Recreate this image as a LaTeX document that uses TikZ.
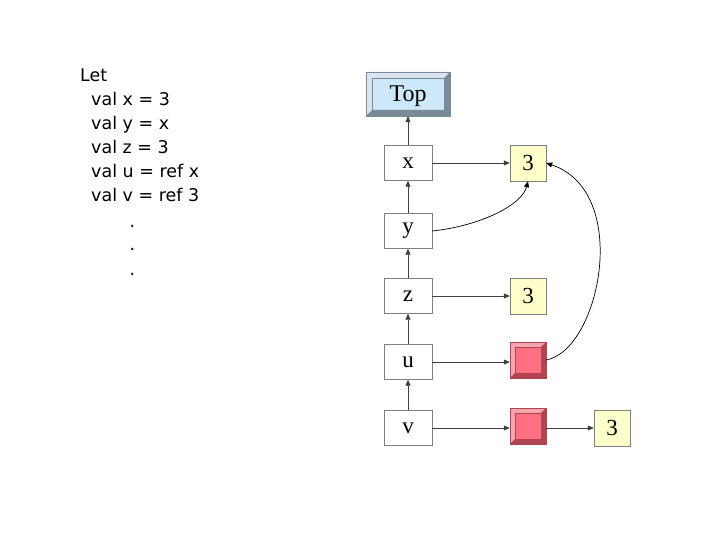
\documentclass[tikz,border=0pt]{standalone}
\usepackage{fontspec}
\setmainfont{Liberation Serif}
\newfontfamily\codefont{DejaVu Sans}
\usetikzlibrary{arrows.meta}
\definecolor{linegrey}{HTML}{404040}
\definecolor{boxedge}{HTML}{808080}
\definecolor{valyellow}{HTML}{FFFFCC}
\definecolor{topface}{HTML}{CCE8FA}
\definecolor{toplight}{HTML}{D8E4EE}
\definecolor{topdark}{HTML}{7A8A98}
\definecolor{redface}{HTML}{FF7080}
\definecolor{redlight}{HTML}{F4A6AE}
\definecolor{reddark}{HTML}{B04452}
\tikzset{
  varbox/.style={draw=boxedge, fill=white, minimum width=48pt, minimum height=35pt, inner sep=0pt, font=\fontsize{23}{25}\selectfont},
  valbox/.style={draw=boxedge, fill=valyellow, minimum width=36pt, minimum height=36pt, inner sep=0pt, font=\fontsize{23}{25}\selectfont},
  bevelbox/.style n args={4}{draw=#4, fill=#1, inner sep=0pt,
    path picture={
      \fill[#2] (path picture bounding box.north west) -- (path picture bounding box.north east)
        -- ([shift={(-#3,-#3)}]path picture bounding box.north east) -- ([shift={(#3,-#3)}]path picture bounding box.north west)
        -- ([shift={(#3,#3)}]path picture bounding box.south west) -- (path picture bounding box.south west) -- cycle;
      \fill[#4] (path picture bounding box.south east) -- (path picture bounding box.north east)
        -- ([shift={(-#3,-#3)}]path picture bounding box.north east) -- ([shift={(-#3,#3)}]path picture bounding box.south east)
        -- ([shift={(#3,#3)}]path picture bounding box.south west) -- (path picture bounding box.south west) -- cycle;
      \draw[#4, line width=0.6pt] ([shift={(#3,-#3)}]path picture bounding box.north west) rectangle ([shift={(-#3,#3)}]path picture bounding box.south east);
    }},
  topbox/.style={bevelbox={topface}{toplight}{6pt}{topdark}, minimum width=84pt, minimum height=44pt, text height=17pt, text depth=2pt, font=\fontsize{24}{26}\selectfont},
  refbox/.style={bevelbox={redface}{redlight}{5pt}{reddark}, minimum width=36pt, minimum height=36pt},
  conn/.style={draw=linegrey, line width=0.8pt, -{Triangle[length=6pt,width=5pt]}},
  curveconn/.style={draw=black, line width=0.7pt, -{Triangle[length=6pt,width=5pt]}},
  code/.style={anchor=base west, inner sep=0pt, font=\codefont\fontsize{17.5}{19}\selectfont}
}
\begin{document}
\begin{tikzpicture}[x=1pt,y=-1pt]
\useasboundingbox[fill=white] (0,0) rectangle (720,540);
% code text
\node[code] (l0) at (80,82) {Let};
\node[code] (l1) at (91,106) {val x = 3};
\node[code] (l2) at (91,130) {val y = x};
\node[code] (l3) at (91,154) {val z = 3};
\node[code] (l4) at (91,178) {val u = ref x};
\node[code] (l5) at (91,202) {val v = ref 3};
\node[code] (d1) at (129.5,227) {.};
\node[code] (d2) at (129.5,251) {.};
\node[code] (d3) at (129.5,275) {.};
% boxes
\node[topbox] (top) at (408,94) {Top};
\node[varbox] (x) at (408,163) {x};
\node[varbox] (y) at (408,231) {y};
\node[varbox] (z) at (408,296) {z};
\node[varbox] (u) at (408,362) {u};
\node[varbox] (v) at (408,428) {v};
\node[valbox] (x3) at (528,163) {3};
\node[valbox] (z3) at (528,296) {3};
\node[refbox] (ur) at (528,360) {};
\node[refbox] (vr) at (528,426) {};
\node[valbox] (v3) at (612,428) {3};
% vertical connectors
\draw[conn] (x) -- (top);
\draw[conn] (y) -- (x);
\draw[conn] (z) -- (y);
\draw[conn] (u) -- (z);
\draw[conn] (v) -- (u);
% horizontal connectors
\draw[conn] (x) -- (x3);
\draw[conn] (z) -- (z3);
\draw[conn] (u) -- (ur.west |- u);
\draw[conn] (v) -- (vr.west |- v);
\draw[conn] (vr.east |- v3) -- (v3);
% curves
\draw[curveconn] (y.east) .. controls (480,226) and (522,205) .. (x3.south);
\draw[curveconn] (ur.east) .. controls (600,350) and (632,192) .. (x3.east);
\end{tikzpicture}
\end{document}
